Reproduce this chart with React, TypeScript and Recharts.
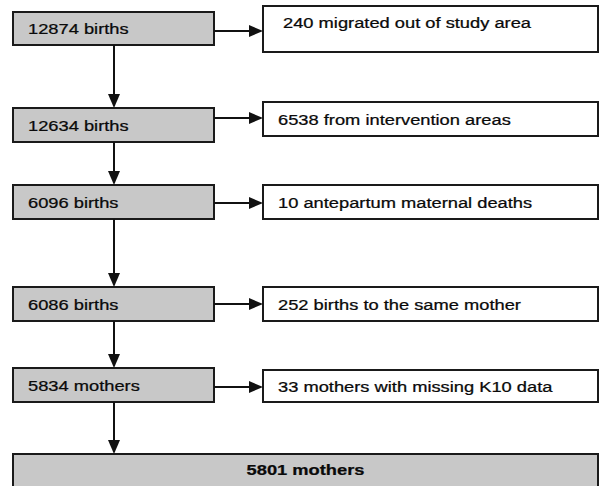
import React from "react";
import { ComposedChart, XAxis, YAxis, ReferenceArea, ReferenceLine } from "recharts";

// flow counts
const steps = ["12874 births", "12634 births", "6096 births", "6086 births", "5834 mothers"];
const exclusions = [
  "240 migrated out of study area",
  "6538 from intervention areas",
  "10 antepartum maternal deaths",
  "252 births to the same mother",
  "33 mothers with missing K10 data",
];
const finalCount = "5801 mothers";

// layout (in chart units = pixels)
const W = 601;
const H = 486;
const STEP_X: [number, number] = [13, 214];
const EXCL_X: [number, number] = [263, 598];
const stepRows: [number, number][] = [[12, 45], [108, 142], [185, 219], [287, 321], [368, 402]];
const exclRows: [number, number][] = [[6, 52], [102, 136], [185, 219], [287, 321], [370, 402]];
const exclTextY = [23, 120, 203, 305, 387];
const exclTextPad = [20, 15, 15, 15, 15];
const arrowY = [31, 118, 203, 304, 387];
const FINAL_ROW: [number, number] = [454, 492];

const FONT = "'Liberation Sans', Arial, sans-serif";
const STRETCH = 1.22;

const boxShape =
  (label: string, fill: string, align: "left" | "center", textY?: number, pad = 15, bold = false) =>
  (p: any) => {
    const { x, y, width, height } = p;
    const ty = textY ?? y + height / 2 + 1;
    const tx = align === "left" ? x + pad : x + width / 2;
    return (
      <g>
        <rect x={x} y={y} width={width} height={height} fill={fill} stroke="#1a1a1a" strokeWidth={2} />
        <text
          transform={`translate(${tx},${ty}) scale(${STRETCH},1)`}
          x={0}
          y={0}
          dominantBaseline="central"
          textAnchor={align === "left" ? "start" : "middle"}
          fontFamily={FONT}
          fontSize={15}
          fontWeight={bold ? 700 : 400}
          fill="#0a0a0a"
          stroke="#0a0a0a"
          strokeWidth={0.25}
        >
          {label}
        </text>
      </g>
    );
  };

const Arrow = (p: any) => {
  const { x1, y1, x2, y2 } = p;
  const ang = Math.atan2(y2 - y1, x2 - x1);
  const len = 14;
  const hw = 6;
  const bx = x2 - len * Math.cos(ang);
  const by = y2 - len * Math.sin(ang);
  const px = -Math.sin(ang) * hw;
  const py = Math.cos(ang) * hw;
  return (
    <g>
      <line x1={x1} y1={y1} x2={bx} y2={by} stroke="#111" strokeWidth={2} />
      <polygon points={`${x2},${y2} ${bx + px},${by + py} ${bx - px},${by - py}`} fill="#111" />
    </g>
  );
};

export default function App() {
  const midX = (STEP_X[0] + STEP_X[1]) / 2 + 0.5;
  const downTargets = [...stepRows.slice(1).map((r) => r[0]), FINAL_ROW[0]];
  return (
    <div style={{ position: "absolute", left: 0, top: 0, background: "#fff" }}>
      <ComposedChart width={W} height={H} margin={{ top: 0, right: 0, bottom: 0, left: 0 }}>
        <XAxis type="number" dataKey="x" domain={[0, W]} hide allowDataOverflow />
        <YAxis type="number" domain={[0, H]} reversed hide allowDataOverflow />

        {steps.map((s, i) => (
          <ReferenceLine
            key={`down-${i}`}
            segment={[
              { x: midX, y: stepRows[i][1] },
              { x: midX, y: downTargets[i] },
            ]}
            ifOverflow="visible"
            shape={Arrow}
          />
        ))}
        {exclusions.map((_, i) => (
          <ReferenceLine
            key={`side-${i}`}
            segment={[
              { x: STEP_X[1], y: arrowY[i] },
              { x: EXCL_X[0], y: arrowY[i] },
            ]}
            ifOverflow="visible"
            shape={Arrow}
          />
        ))}

        {steps.map((s, i) => (
          <ReferenceArea
            key={`step-${i}`}
            x1={STEP_X[0]}
            x2={STEP_X[1]}
            y1={stepRows[i][0]}
            y2={stepRows[i][1]}
            ifOverflow="visible"
            shape={boxShape(s, "#c8c8c8", "left")}
          />
        ))}
        {exclusions.map((s, i) => (
          <ReferenceArea
            key={`excl-${i}`}
            x1={EXCL_X[0]}
            x2={EXCL_X[1]}
            y1={exclRows[i][0]}
            y2={exclRows[i][1]}
            ifOverflow="visible"
            shape={boxShape(s, "#ffffff", "left", exclTextY[i], exclTextPad[i])}
          />
        ))}
        <ReferenceArea
          x1={STEP_X[0]}
          x2={EXCL_X[1]}
          y1={FINAL_ROW[0]}
          y2={FINAL_ROW[1]}
          ifOverflow="visible"
          shape={boxShape(finalCount, "#c8c8c8", "center", 470, 15, true)}
        />
      </ComposedChart>
    </div>
  );
}
